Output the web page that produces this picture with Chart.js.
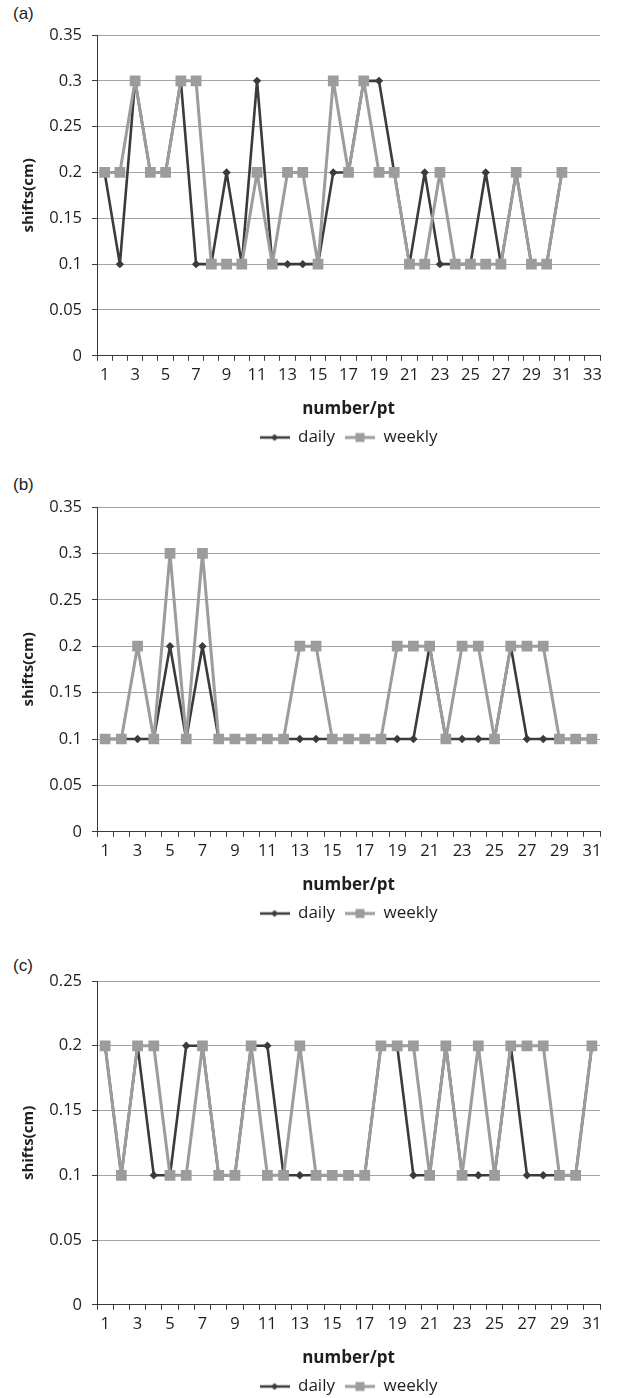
<!DOCTYPE html>
<html><head><meta charset="utf-8">
<script src="https://cdn.jsdelivr.net/npm/chart.js@4"></script>
<style>
html,body{margin:0;padding:0;background:#fff;width:618px;height:1398px;overflow:hidden;position:relative}
.panel{position:absolute;left:0;width:618px}
.tag{position:absolute;left:13px;font-family:"Liberation Sans",Arial,sans-serif;font-size:17px;color:#222;line-height:1}
</style></head><body>
<div class="tag" style="top:5px">(a)</div>
<div class="tag" style="top:476px">(b)</div>
<div class="tag" style="top:957px">(c)</div>
<div class="panel" style="top:0px;height:460px"><canvas id="ca"></canvas></div>
<div class="panel" style="top:472px;height:464px"><canvas id="cb"></canvas></div>
<div class="panel" style="top:946px;height:463px"><canvas id="cc"></canvas></div>
<script>
const categoriesA = ['1','2','3','4','5','6','7','8','9','10','11','12','13','14','15','16','17','18','19','20','21','22','23','24','25','26','27','28','29','30','31','32','33'];
const categoriesB = ['1','2','3','4','5','6','7','8','9','10','11','12','13','14','15','16','17','18','19','20','21','22','23','24','25','26','27','28','29','30','31'];
const categoriesC = ['1','2','3','4','5','6','7','8','9','10','11','12','13','14','15','16','17','18','19','20','21','22','23','24','25','26','27','28','29','30','31'];

const dailyA  = [0.2,0.1,0.3,0.2,0.2,0.3,0.1,0.1,0.2,0.1,0.3,0.1,0.1,0.1,0.1,0.2,0.2,0.3,0.3,0.2,0.1,0.2,0.1,0.1,0.1,0.2,0.1,0.2,0.1,0.1,0.2];
const weeklyA = [0.2,0.2,0.3,0.2,0.2,0.3,0.3,0.1,0.1,0.1,0.2,0.1,0.2,0.2,0.1,0.3,0.2,0.3,0.2,0.2,0.1,0.1,0.2,0.1,0.1,0.1,0.1,0.2,0.1,0.1,0.2];

const dailyB  = [0.1,0.1,0.1,0.1,0.2,0.1,0.2,0.1,0.1,0.1,0.1,0.1,0.1,0.1,0.1,0.1,0.1,0.1,0.1,0.1,0.2,0.1,0.1,0.1,0.1,0.2,0.1,0.1,0.1,0.1,0.1];
const weeklyB = [0.1,0.1,0.2,0.1,0.3,0.1,0.3,0.1,0.1,0.1,0.1,0.1,0.2,0.2,0.1,0.1,0.1,0.1,0.2,0.2,0.2,0.1,0.2,0.2,0.1,0.2,0.2,0.2,0.1,0.1,0.1];

const dailyC  = [0.2,0.1,0.2,0.1,0.1,0.2,0.2,0.1,0.1,0.2,0.2,0.1,0.1,0.1,0.1,0.1,0.1,0.2,0.2,0.1,0.1,0.2,0.1,0.1,0.1,0.2,0.1,0.1,0.1,0.1,0.2];
const weeklyC = [0.2,0.1,0.2,0.2,0.1,0.1,0.2,0.1,0.1,0.2,0.1,0.1,0.2,0.1,0.1,0.1,0.1,0.2,0.2,0.2,0.1,0.2,0.1,0.2,0.1,0.2,0.2,0.2,0.1,0.1,0.2];

const yMaxA = 0.35, yMaxB = 0.35, yMaxC = 0.25, yStep = 0.05;
const seriesNames = ['daily','weekly'];
const xTitle = 'number/pt';
const yTitle = 'shifts(cm)';

const DARK = '#3b3b3b', LIGHT = '#9c9c9c', GRID = '#a3a3a3', AXIS = '#3a3a3a', TXT = '#1e1e1e';
const FONT = '"Open Sans", "Noto Sans", sans-serif';

function legendIcon(color, lw, style, r) {
  const c = document.createElement('canvas');
  c.width = 30; c.height = 14;
  const g = c.getContext('2d');
  g.strokeStyle = color; g.fillStyle = color; g.lineWidth = lw;
  g.beginPath(); g.moveTo(0, 7); g.lineTo(30, 7); g.stroke();
  g.beginPath();
  if (style === 'diamond') { g.moveTo(15, 7 - r); g.lineTo(15 + r, 7); g.lineTo(15, 7 + r); g.lineTo(15 - r, 7); g.closePath(); }
  else { g.rect(15 - r, 7 - r, 2 * r, 2 * r); }
  g.fill();
  return c;
}
const icons = [legendIcon(DARK, 2.5, 'diamond', 3.5), legendIcon(LIGHT, 3, 'square', 4.5)];

function makeChart(id, labels, daily, weekly, yMax) {
  return new Chart(document.getElementById(id), {
    type: 'line',
    data: {
      labels: labels,
      datasets: [
        { label: seriesNames[0], data: daily, borderColor: DARK, backgroundColor: DARK, borderWidth: 2.6,
          pointStyle: 'rectRot', pointRadius: 4.2, pointBorderWidth: 0, pointBackgroundColor: DARK,
          tension: 0, borderJoinStyle: 'round', order: 2 },
        { label: seriesNames[1], data: weekly, borderColor: LIGHT, backgroundColor: LIGHT, borderWidth: 3,
          pointStyle: 'rect', pointRadius: 7.6, pointBorderWidth: 0, pointBackgroundColor: LIGHT,
          tension: 0, borderJoinStyle: 'round', order: 1 }
      ]
    },
    options: {
      responsive: true, maintainAspectRatio: false, animation: false,
      events: [],
      layout: { padding: { top: 35, right: 18, bottom: 4, left: 0 } },
      plugins: {
        tooltip: { enabled: false },
        legend: {
          position: 'bottom', fullSize: false,
          labels: {
            usePointStyle: true, pointStyleWidth: 30, boxHeight: 14, padding: 10,
            color: TXT, font: { family: FONT, size: 17 },
            generateLabels: function (chart) {
              const items = Chart.defaults.plugins.legend.labels.generateLabels(chart);
              items.forEach(function (it) { it.pointStyle = icons[it.datasetIndex]; });
              return items;
            },
            sort: function (a, b) { return a.datasetIndex - b.datasetIndex; }
          }
        }
      },
      scales: {
        x: {
          offset: true,
          grid: { display: true, drawOnChartArea: false, drawTicks: true, tickLength: 5, offset: true, tickColor: AXIS },
          border: { display: true, color: AXIS, width: 1 },
          ticks: {
            autoSkip: false, maxRotation: 0, minRotation: 0, padding: 5, color: TXT,
            font: { family: FONT, size: 16.5 },
            callback: function (v, i) { return i % 2 === 0 ? this.getLabelForValue(v) : ''; }
          },
          title: { display: true, text: xTitle, color: TXT, font: { family: FONT, size: 17, weight: 'bold' }, padding: { top: 8, bottom: 0 } }
        },
        y: {
          min: 0, max: yMax,
          grid: { color: GRID, lineWidth: 1, drawTicks: true, tickLength: 5, tickColor: AXIS },
          border: { display: true, color: AXIS, width: 1 },
          ticks: {
            stepSize: yStep, padding: 10, color: TXT, font: { family: FONT, size: 16.5 },
            callback: function (v) { return String(+v.toFixed(2)); }
          },
          title: { display: true, text: yTitle, color: TXT, font: { family: FONT, size: 15, weight: 'bold' }, padding: { top: 20, bottom: 0 } },
          afterFit: function (s) { s.width = 97; }
        }
      }
    }
  });
}

makeChart('ca', categoriesA, dailyA, weeklyA, yMaxA);
makeChart('cb', categoriesB, dailyB, weeklyB, yMaxB);
makeChart('cc', categoriesC, dailyC, weeklyC, yMaxC);
</script>
</body></html>
